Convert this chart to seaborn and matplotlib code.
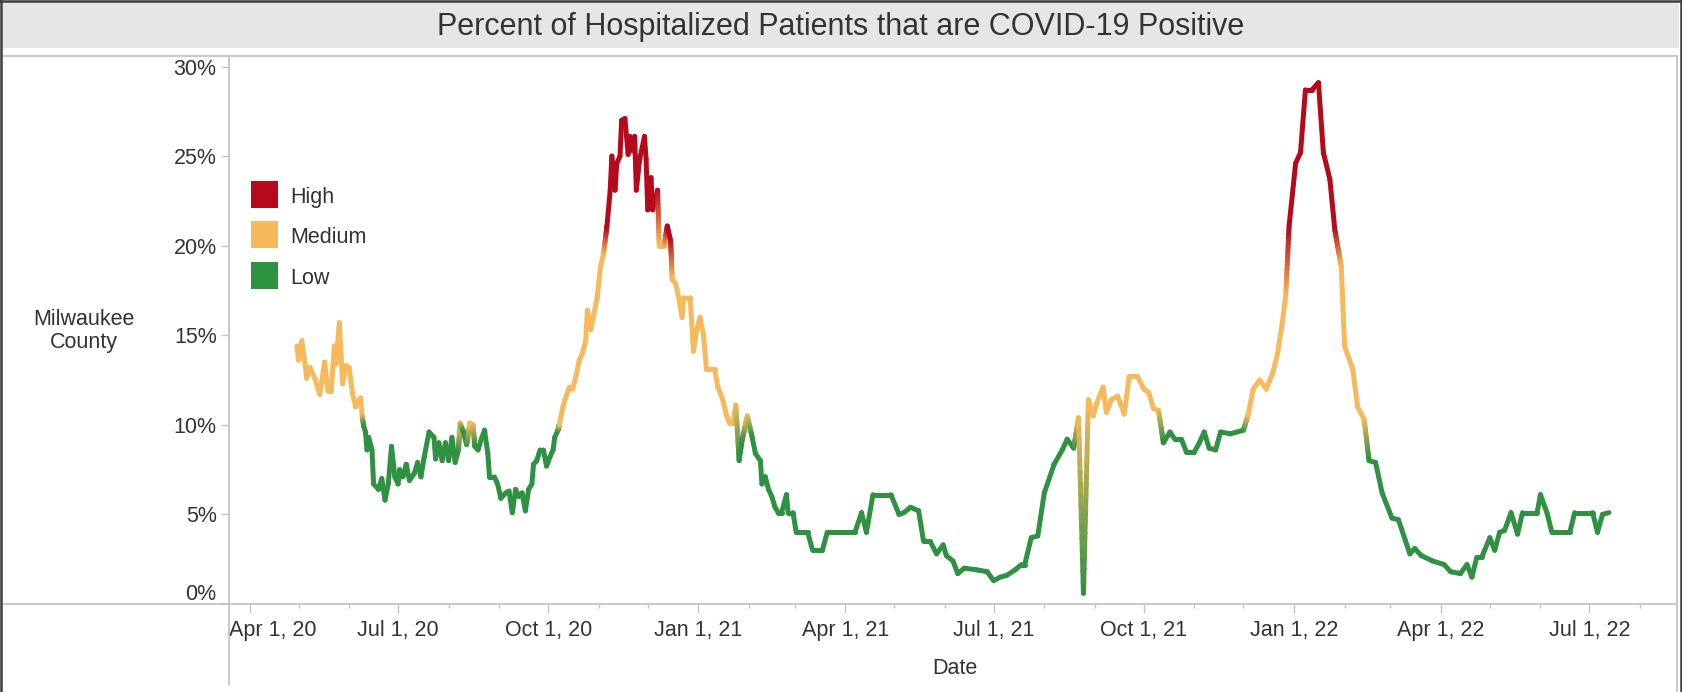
import numpy as np
import pandas as pd
import matplotlib
matplotlib.use("Agg")
import matplotlib.pyplot as plt
import matplotlib.dates as mdates
from matplotlib.collections import LineCollection
from matplotlib.lines import Line2D
from matplotlib.patches import Rectangle
from matplotlib.ticker import FixedLocator, FuncFormatter
from matplotlib.colors import to_rgb
from matplotlib.transforms import ScaledTranslation
import seaborn as sns

# ==========================
# Data
# ==========================

start_date = "2020-04-01"

# days since Apr 1, 2020
day_offset = [
    29, 30, 32, 34, 35, 37, 40, 43, 44, 46, 48, 50, 52, 53, 55, 57, 59, 61, 63, 65,
    66, 68, 69, 70, 71, 72, 73, 75, 76, 79, 81, 83, 85, 87, 89, 91, 92, 94, 96, 98,
    101, 103, 105, 107, 110, 113, 114, 116, 118, 120, 122, 124, 126, 128, 129, 131, 133, 135, 137, 138,
    140, 142, 144, 146, 147, 150, 152, 154, 157, 159, 161, 163, 165, 167, 169, 171, 173, 174, 176, 178,
    180, 182, 184, 186, 187, 189, 190, 192, 194, 196, 198, 200, 202, 204, 206, 207, 209, 211, 213, 215,
    217, 219, 221, 222, 224, 225, 227, 228, 230, 232, 233, 235, 236, 237, 239, 242, 243, 244, 246, 247,
    250, 251, 254, 256, 258, 259, 261, 263, 265, 266, 270, 272, 274, 276, 278, 280, 285, 287, 290, 292,
    294, 296, 298, 300, 302, 305, 308, 310, 313, 314, 316, 318, 320, 322, 324, 326, 329, 330, 333, 335,
    342, 345, 351, 354, 371, 375, 378, 382, 393, 398, 401, 405, 410, 413, 417, 421, 425, 427, 431, 434,
    438, 446, 452, 456, 460, 464, 469, 473, 475, 479, 483, 487, 493, 498, 501, 505, 508, 511, 514, 517,
    519, 523, 525, 528, 532, 536, 539, 544, 548, 551, 554, 557, 560, 564, 567, 571, 574, 579, 582, 585,
    588, 592, 595, 601, 609, 612, 615, 619, 623, 627, 630, 633, 635, 637, 641, 644, 647, 651, 655, 658,
    662, 665, 669, 671, 676, 679, 683, 686, 690, 694, 700, 704, 711, 714, 718, 725, 732, 736, 742, 746,
    749, 752, 755, 760, 763, 766, 769, 773, 777, 780, 789, 791, 795, 798, 809, 812, 823, 826, 829, 833,
]

# percent of hospitalized patients that are COVID-19 positive
pct = [
    14.4, 13.6, 14.7, 13.4, 12.6, 13.2, 12.6, 11.7, 12.3, 13.5, 11.9, 11.9, 14.4, 13.4, 15.7, 12.3, 13.3, 13.2, 11.8, 11.0,
    11.3, 11.5, 10.5, 9.9, 9.6, 8.6, 9.3, 8.6, 6.7, 6.4, 7.0, 5.8, 6.7, 8.8, 7.1, 6.7, 7.5, 7.1, 7.8, 6.9,
    7.3, 7.9, 7.1, 8.2, 9.6, 9.3, 8.1, 9.0, 8.0, 9.0, 8.0, 9.3, 7.9, 8.6, 10.1, 9.6, 8.9, 10.1, 10.0, 8.8,
    8.6, 9.2, 9.7, 8.4, 7.1, 7.1, 6.7, 5.9, 6.2, 6.3, 5.1, 6.4, 6.0, 6.2, 5.2, 6.4, 6.7, 7.8, 8.0, 8.6,
    8.6, 7.7, 8.2, 8.6, 9.3, 9.7, 10.1, 11.0, 11.6, 12.1, 12.0, 12.7, 13.6, 14.0, 14.7, 16.4, 15.3, 16.2, 17.1, 18.8,
    19.6, 21.1, 23.1, 25.0, 23.1, 24.6, 25.0, 27.0, 27.1, 25.1, 26.1, 25.3, 26.1, 23.1, 24.8, 26.1, 24.8, 22.0, 23.8, 22.0,
    23.1, 20.0, 20.0, 21.1, 20.3, 18.1, 17.9, 17.1, 16.0, 17.1, 17.1, 14.1, 15.3, 16.0, 15.1, 13.1, 13.1, 12.1, 11.4, 10.6,
    10.1, 10.1, 11.1, 8.0, 9.2, 10.5, 9.3, 8.4, 8.0, 6.7, 7.1, 6.4, 6.0, 5.4, 5.1, 5.1, 6.1, 5.1, 5.1, 4.0,
    4.0, 3.0, 3.0, 4.0, 4.0, 5.1, 4.0, 6.1, 6.1, 5.0, 5.1, 5.4, 5.2, 3.5, 3.5, 2.8, 3.3, 2.7, 2.4, 1.7,
    2.0, 1.9, 1.8, 1.3, 1.5, 1.6, 1.9, 2.2, 2.2, 3.7, 3.8, 6.2, 7.8, 8.6, 9.2, 8.7, 10.4, 0.6, 11.4, 10.5,
    11.2, 12.1, 10.7, 11.4, 11.6, 10.6, 12.7, 12.7, 12.0, 11.8, 10.9, 10.8, 9.0, 9.6, 9.2, 9.2, 8.5, 8.5, 9.0, 9.6,
    8.7, 8.6, 9.6, 9.5, 9.7, 10.6, 12.0, 12.5, 12.0, 12.9, 14.0, 15.8, 17.3, 21.1, 24.6, 25.2, 28.7, 28.7, 29.1, 25.2,
    23.7, 20.9, 18.8, 14.4, 13.1, 11.0, 10.3, 8.0, 7.9, 6.2, 4.8, 4.7, 2.8, 3.1, 2.7, 2.4, 2.2, 1.8, 1.7, 2.2,
    1.5, 2.6, 2.6, 3.7, 3.0, 4.0, 4.1, 5.1, 3.9, 5.1, 5.1, 6.1, 5.1, 4.0, 4.0, 5.1, 5.1, 4.0, 5.0, 5.1,
]

level_names = ["High", "Medium", "Low"]
level_colors = ["#b60a1c", "#f6b95c", "#2f9142"]
level_floor = [20.0, 10.0, -1.0]   # High if > 20, Medium if >= 10

ytick_values = [0, 5, 10, 15, 20, 25, 30]
ytick_labels = ["0%", "5%", "10%", "15%", "20%", "25%", "30%"]

title = "Percent of Hospitalized Patients that are COVID-19 Positive"
row_label = "Milwaukee\nCounty"
x_title = "Date"

# ==========================
# Figure layout (pixels)
# ==========================

W, H = 1682, 692
PANE_L, PANE_R, PANE_T, PANE_B = 229, 1677, 56, 604
AXIS_GREY = "#c4c4c4"
TEXT = "#333333"
FS = 15.5


def fx(px):
    return px / W


def fy(py):
    return 1 - py / H


sns.set_theme(style="white")
plt.rcParams["font.family"] = ["Liberation Sans", "DejaVu Sans"]

fig = plt.figure(figsize=(W / 100, H / 100), dpi=100)
fig.patch.set_facecolor("white")

ax = fig.add_axes([fx(PANE_L), fy(PANE_B), fx(PANE_R) - fx(PANE_L), fy(PANE_T) - fy(PANE_B)])
ax.set_facecolor("white")

# ==========================
# Line
# ==========================

dates = pd.Timestamp(start_date) + pd.to_timedelta(day_offset, unit="D")
df = pd.DataFrame({"date": dates, "pct": pct})


def level_of(v):
    if v > level_floor[0]:
        return 0
    if v >= level_floor[1]:
        return 1
    return 2


df["level"] = [level_names[level_of(v)] for v in df["pct"]]

# thin base line drawn by seaborn, colored gradient segments on top
sns.lineplot(data=df, x="date", y="pct", ax=ax, color=level_colors[2],
             linewidth=1.2, estimator=None, sort=False, legend=False)

xs = mdates.date2num(df["date"])
ys = df["pct"].to_numpy()
rgb = np.array([to_rgb(level_colors[level_of(v)]) for v in ys])

segs, seg_cols = [], []
n_sub = 16
for i in range(len(xs) - 1):
    same = np.allclose(rgb[i], rgb[i + 1])
    n = 1 if same else n_sub
    t = np.linspace(0, 1, n + 1)
    px = xs[i] + (xs[i + 1] - xs[i]) * t
    py = ys[i] + (ys[i + 1] - ys[i]) * t
    for k in range(n):
        tm = (t[k] + t[k + 1]) / 2
        segs.append([(px[k], py[k]), (px[k + 1], py[k + 1])])
        seg_cols.append(rgb[i] * (1 - tm) + rgb[i + 1] * tm)

lc = LineCollection(segs, colors=seg_cols, linewidths=3.6,
                    capstyle="round", joinstyle="round", zorder=3)
ax.add_collection(lc)

# ==========================
# Axes
# ==========================

x0 = mdates.date2num(pd.Timestamp(start_date))
ax.set_xlim(x0 - 12.6, x0 + 874.7)
ax.set_ylim(0, 30.59)

for s in ax.spines.values():
    s.set_visible(False)

ax.set_xlabel("")
ax.set_ylabel("")

ax.xaxis.set_major_locator(mdates.MonthLocator(bymonth=[1, 4, 7, 10]))
ax.xaxis.set_minor_locator(mdates.MonthLocator())


def date_fmt(v, pos):
    d = mdates.num2date(v)
    return f"{d:%b} {d.day}, {d:%y}"


ax.xaxis.set_major_formatter(FuncFormatter(date_fmt))
ax.tick_params(axis="x", which="major", length=6.5, width=1, color=AXIS_GREY,
               direction="out", pad=5.2, labelsize=FS, labelcolor=TEXT, bottom=True)
ax.tick_params(axis="x", which="minor", length=3, width=1, color=AXIS_GREY,
               direction="out", bottom=True)

ax.yaxis.set_major_locator(FixedLocator(ytick_values))
ax.set_yticklabels(ytick_labels)
ax.tick_params(axis="y", which="major", length=5.5, width=1, color=AXIS_GREY,
               direction="out", pad=3.4, labelsize=FS, labelcolor=TEXT, left=True)
ax.grid(False)

# Tableau keeps edge labels inside the pane
ylabs = ax.get_yticklabels()
ylabs[0].set_transform(ylabs[0].get_transform() + ScaledTranslation(0, 12 / 100, fig.dpi_scale_trans))
xlabs = ax.get_xticklabels()
xlabs[0].set_transform(xlabs[0].get_transform() + ScaledTranslation(23 / 100, 0, fig.dpi_scale_trans))

# ==========================
# Frame, title band, rulers
# ==========================

fig.add_artist(Rectangle((fx(3), fy(48)), fx(1679) - fx(3), fy(3) - fy(48),
                         transform=fig.transFigure, facecolor="#e6e6e6", edgecolor="none", zorder=0))

rulers = [
    ((PANE_L, PANE_L), (PANE_T, 685)),      # y axis ruler, runs into header area
    ((3, PANE_R), (PANE_B, PANE_B)),        # x axis ruler
    ((3, PANE_R), (PANE_T, PANE_T)),        # pane top
    ((PANE_R, PANE_R), (PANE_T, H)),        # pane right
]
for (xa, xb), (ya, yb) in rulers:
    fig.add_artist(Line2D([fx(xa), fx(xb)], [fy(ya), fy(yb)], transform=fig.transFigure,
                          color=AXIS_GREY, linewidth=1.3))

border = "#3c3c3c"
fig.add_artist(Line2D([fx(1), fx(1)], [fy(0), fy(H)], transform=fig.transFigure, color=border, linewidth=1.8))
fig.add_artist(Line2D([fx(0), fx(W)], [fy(1), fy(1)], transform=fig.transFigure, color=border, linewidth=1.8))
fig.add_artist(Line2D([fx(1680.5), fx(1680.5)], [fy(0), fy(H)], transform=fig.transFigure, color=border, linewidth=1.8))

fig.text(0.5, fy(27), title, ha="center", va="center", fontsize=22, color=TEXT)
fig.text(fx(84), fy(331), row_label, ha="center", va="center", multialignment="center",
         fontsize=FS, color=TEXT, linespacing=1.1)
fig.text(fx(955), fy(669), x_title, ha="center", va="center", fontsize=FS, color=TEXT)

# ==========================
# Legend
# ==========================

for i, (name, col) in enumerate(zip(level_names, level_colors)):
    cy = 194 + i * 40.5
    fig.add_artist(Rectangle((fx(251), fy(cy + 13.5)), 27 / W, 27 / H,
                             transform=fig.transFigure, facecolor=col, edgecolor="none"))
    fig.text(fx(290), fy(cy + 3), name, ha="left", va="center", fontsize=FS, color=TEXT)

fig.savefig("out.png", dpi=100)
